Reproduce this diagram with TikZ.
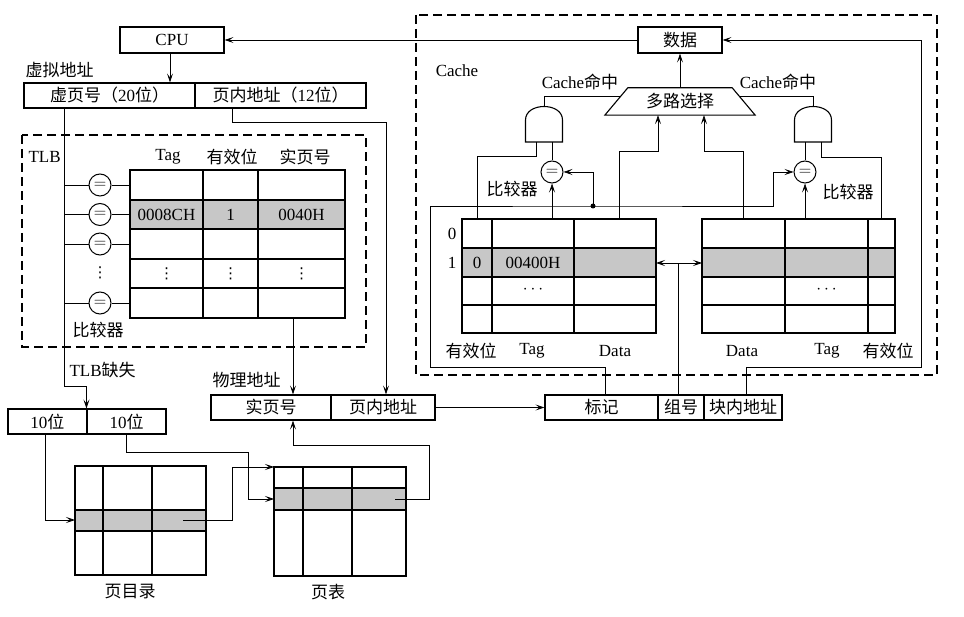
\documentclass[tikz,border=0pt]{standalone}
\usepackage{fontspec}
\setmainfont{Liberation Serif}
\newfontfamily\cjk{Noto Sans CJK SC}
\newfontfamily\sym{DejaVu Sans}
\usepackage{tikz}
\usetikzlibrary{arrows.meta,calc}
\newcommand\zh[1]{{\cjk #1}}
\newcommand\andgate[2]{
  \begin{scope}[shift={#2}]
    \draw[line width=1.1pt] (-18.5,0) -- (-18.5,-22) .. controls (-18.5,-40) and (18.5,-40) .. (18.5,-22) -- (18.5,0) -- cycle;
    \coordinate (#1-out) at (0,-35.5);
    \coordinate (#1-a) at (-8,0);
    \coordinate (#1-b) at (8,0);
  \end{scope}
}

\begin{document}
\begin{tikzpicture}[x=1pt, y=-1pt, font=\fontsize{17}{20}\selectfont,
  box/.style = {draw, line width=1.1pt, minimum height=25pt, inner sep=0pt},
  cmp/.style = {draw, circle, line width=1pt, minimum size=22pt, inner sep=0pt},
  vdot/.style = {font=\sym\fontsize{15}{18}\selectfont},
  wire/.style = {line width=0.7pt},
  arr/.style = {wire, -{Stealth[length=9pt,width=6pt,inset=4pt]}},
  grid/.style = {line width=1.4pt},
  frame/.style = {line width=1.5pt, dash pattern=on 9pt off 5pt},
  hl/.style = {fill=black!22}]
	\useasboundingbox (0,0) rectangle (964,617);
	% virtual address
	\node[box, minimum width=104pt, minimum height=26pt] (cpu) at (172,40) {CPU};
	\node[anchor=west] (va) at (22,70) {\zh{虚拟地址}};
	\node[box, minimum width=171pt] (vpn) at (109.5,95.5) {\zh{虚页号（}20\zh{位）}};
	\node[box, minimum width=171pt] (voff) at (280.5,95.5) {\zh{页内地址（}12\zh{位）}};
	\draw[arr] ([xshift=-2pt]cpu.south) -- ([xshift=-2pt]cpu.south |- vpn.north);
	% TLB
	\draw[frame] (22,135) rectangle (366,347);
	\node[anchor=west] (tlb) at (25,157) {TLB};
	\node (h1) at (168,157) {Tag};
	\node (h2) at (232,157) {\zh{有效位}};
	\node (h3) at (305,157) {\zh{实页号}};
	\fill[hl] (130,200) rectangle (345,229);
	\draw[grid] (130,170) rectangle (345,318);
	\foreach \y in {200,229,259,288} \draw[grid] (130,\y) -- (345,\y);
	\foreach \x in {203,258} \draw[grid] (\x,170) -- (\x,318);
	\node (e1) at (166.5,214.5) {0008CH};
	\node (e2) at (230.5,214.5) {1};
	\node (e3) at (301.5,214.5) {0040H};
	\node[vdot] (d1) at (166.5,273.5) {⋮};
	\node[vdot] (d2) at (230.5,273.5) {⋮};
	\node[vdot] (d3) at (301.5,273.5) {⋮};
	\node[cmp] (c1) at (100,185) {$=$};
	\node[cmp] (c2) at (100,214.5) {$=$};
	\node[cmp] (c3) at (100,244) {$=$};
	\node[vdot] (d0) at (100,273) {⋮};
	\node[cmp] (c4) at (100,303) {$=$};
	\node (cmplbl) at (98,330) {\zh{比较器}};
	\coordinate (vline) at (64,0);
	\coordinate (tlbl) at (130,0);
	\foreach \c in {c1,c2,c3,c4} {
	  \draw[wire] (\c.west) -- (\c.west -| vline);
	  \draw[wire] (\c.east) -- (\c.east -| tlbl);
	}
	\node[anchor=west] (miss) at (66,370) {TLB\zh{缺失}};
	% physical address
	\node[anchor=west] (pa) at (209,380) {\zh{物理地址}};
	\node[box, minimum width=120pt] (ppn) at (271,407.5) {\zh{实页号}};
	\node[box, minimum width=104pt] (poff) at (383,407.5) {\zh{页内地址}};
	\coordinate (tlbout) at (293,318);
	\draw[arr] (tlbout) -- (tlbout |- ppn.north);
	\draw[arr] ([xshift=-48.5pt]voff.south) -- ++(0,14) -| ([xshift=3pt]poff.north);
	% page tables
	\node[box, minimum width=79pt] (b1) at (47.5,421.5) {10\zh{位}};
	\node[box, minimum width=79pt] (b2) at (126.5,421.5) {10\zh{位}};
	\draw[arr] ([xshift=-45.5pt]vpn.south) -- ++(0,278) -| (b2.north west);
	\fill[hl] (75,510) rectangle (206,531);
	\draw[grid] (75,466) rectangle (206,575);
	\foreach \y in {510,531} \draw[grid] (75,\y) -- (206,\y);
	\foreach \x in {103,152} \draw[grid] (\x,466) -- (\x,575);
	\fill[hl] (274,488) rectangle (406,510);
	\draw[grid] (274,467) rectangle (406,576);
	\foreach \y in {488,510} \draw[grid] (274,\y) -- (406,\y);
	\foreach \x in {303,352} \draw[grid] (\x,467) -- (\x,576);
	\node (pdir) at (130,592) {\zh{页目录}};
	\node (ptab) at (328,592) {\zh{页表}};
	\coordinate (dirin) at (75,520);
	\coordinate (dirout) at (183,520);
	\coordinate (ptbase) at (274,467);
	\coordinate (ptin) at (274,499);
	\coordinate (ptout) at (395,499);
	\draw[arr] ([xshift=-2.5pt]b1.south) |- (dirin);
	\draw[arr] (b2.south) -- ++(0,18) -- ++(121.5,0) |- (ptin);
	\draw[arr] (dirout) -- ++(49,0) |- (ptbase);
	\draw[arr] (ptout) -- ++(34,0) |- ([xshift=22pt,yshift=-25pt]ppn.south) -- ([xshift=22pt]ppn.south);
	% cache address
	\node[box, minimum width=113pt] (tagf) at (601.5,407.5) {\zh{标记}};
	\node[box, minimum width=46pt] (idx) at (681,407.5) {\zh{组号}};
	\node[box, minimum width=78pt] (blk) at (743,407.5) {\zh{块内地址}};
	\draw[arr] (poff.east) -- (tagf.west);
	% cache
	\draw[frame] (416,15) rectangle (937,375);
	\node (cache) at (457,71) {Cache};
	\node[box, minimum width=84pt, minimum height=26pt] (data) at (680,40) {\zh{数据}};
	\draw[arr] (data.west) -- (cpu.east);
	\node[minimum width=104pt, minimum height=27pt, inner sep=0pt] (mux) at (680,101.5) {\zh{多路选择}};
	\draw[line width=1.1pt] (mux.north west) -- (mux.north east) -- ([xshift=23pt]mux.south east)
	  -- ([xshift=-23pt]mux.south west) -- cycle;
	\draw[arr] (mux.north) -- (data.south);
	\coordinate (muxL) at ($([xshift=-23pt]mux.south west)!0.7!(mux.north west)$);
	\coordinate (muxR) at ($([xshift=23pt]mux.south east)!0.7!(mux.north east)$);
	\coordinate (muxin1) at ([xshift=-22pt]mux.south);
	\coordinate (muxin2) at ([xshift=24pt]mux.south);
	\node (hit1) at (580,82) {Cache\zh{命中}};
	\node (hit2) at (778,82) {Cache\zh{命中}};
	\andgate{g1}{(544,142)}
	\andgate{g2}{(813,142)}
	\draw[wire] (g1-out) |- (muxL);
	\draw[wire] (g2-out) |- (muxR);
	\node[cmp] (k1) at (552,172) {$=$};
	\node[cmp] (k2) at (805,172) {$=$};
	\node (klbl1) at (512,189) {\zh{比较器}};
	\node (klbl2) at (848,192) {\zh{比较器}};
	\draw[wire] (g1-b) -- (k1.north);
	\draw[wire] (g2-a) -- (k2.north);
	% cache way 0
	\fill[hl] (462,248) rectangle (656,277);
	\draw[grid] (462,219) rectangle (656,333);
	\foreach \y in {248,277,305} \draw[grid] (462,\y) -- (656,\y);
	\foreach \x in {492,574} \draw[grid] (\x,219) -- (\x,333);
	\node (r0) at (452,233.5) {0};
	\node (r1) at (452,262.5) {1};
	\node (v1) at (477,262.5) {0};
	\node (t1) at (533,262.5) {00400H};
	\node (t2) at (533,290) {$\cdots$};
	\node (l1) at (471,351) {\zh{有效位}};
	\node (l2) at (532,351) {Tag};
	\node (l3) at (615,351) {Data};
	% cache way 1
	\fill[hl] (702,248) rectangle (895,277);
	\draw[grid] (702,219) rectangle (895,333);
	\foreach \y in {248,277,305} \draw[grid] (702,\y) -- (895,\y);
	\foreach \x in {785,868} \draw[grid] (\x,219) -- (\x,333);
	\node (t3) at (826.5,290) {$\cdots$};
	\node (l4) at (742,351) {Data};
	\node (l5) at (827,351) {Tag};
	\node (l6) at (888,351) {\zh{有效位}};
	% wires inside cache
	\coordinate (lv) at (477,219);
	\coordinate (lt) at (552,219);
	\coordinate (ld) at (619,219);
	\coordinate (rd) at (743,219);
	\coordinate (rt) at (805,219);
	\coordinate (rv) at (881,219);
	\coordinate (lr) at (656,263);
	\coordinate (rl) at (702,263);
	\coordinate (bus) at (593,206);
	\draw[wire] (lv) |- ([yshift=-14pt]g1-a) -- (g1-a);
	\draw[wire] (rv) |- ([yshift=-15pt]g2-b) -- (g2-b);
	\draw[arr] (lt) -- (k1.south);
	\draw[arr] (rt) -- (k2.south);
	\draw[arr] (ld) |- ([yshift=-36pt]muxin1) -- (muxin1);
	\draw[arr] (rd) |- ([yshift=-36pt]muxin2) -- (muxin2);
	\draw[arr] ([xshift=3.5pt]tagf.north) -- ++(0,-27) -- ++(-175,0) |- (bus) -- ++(180,0) |- (k2.west);
	\fill (bus) circle (2.5pt);
	\draw[arr] (bus) |- (k1.east);
	\draw[arr] ([xshift=3pt]blk.north) -- ++(0,-27) -- ++(175,0) |- (data.east);
	\draw[{Stealth[length=9pt,width=6pt,inset=4pt]}-{Stealth[length=9pt,width=6pt,inset=4pt]}, wire] (lr) -- (rl);
	\draw[wire] ([xshift=-3pt]idx.north) -- ([xshift=-3pt]idx.north |- lr);
\end{tikzpicture}
\end{document}
